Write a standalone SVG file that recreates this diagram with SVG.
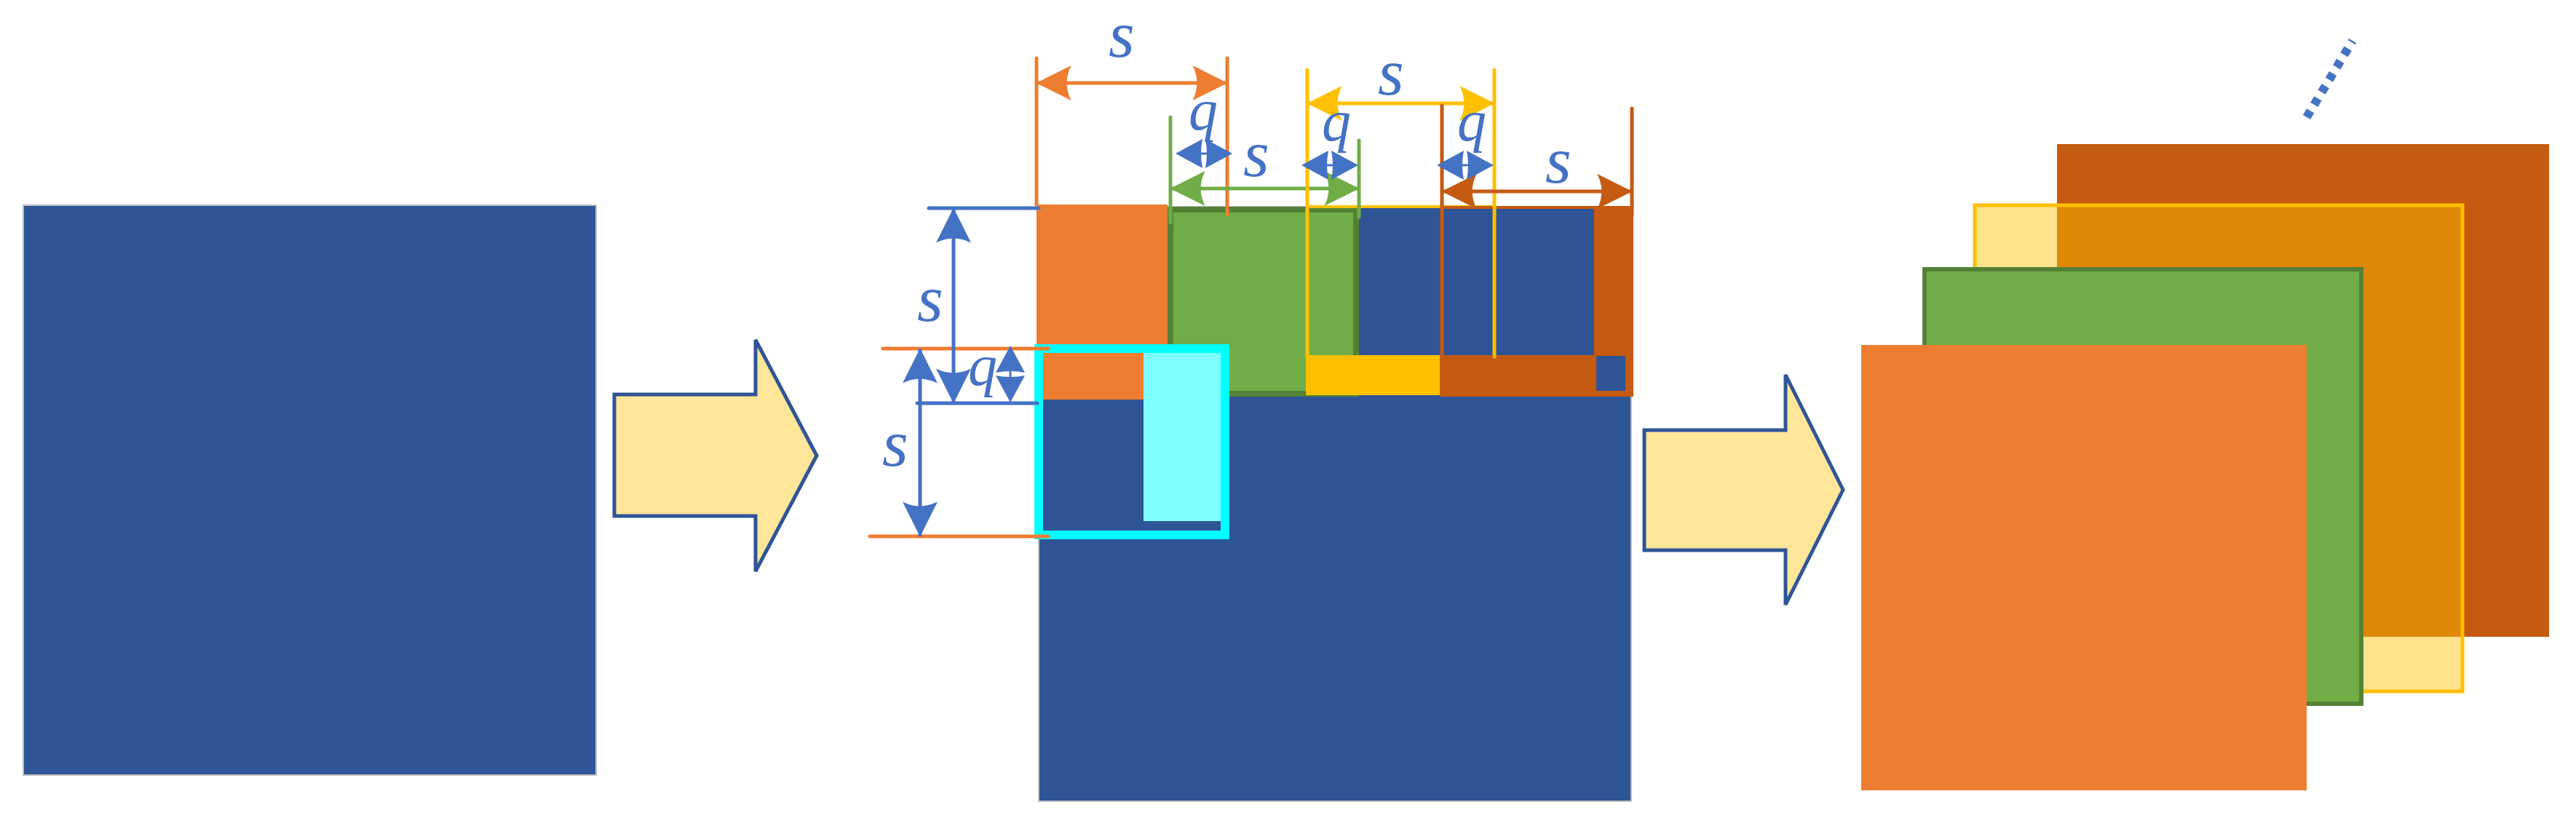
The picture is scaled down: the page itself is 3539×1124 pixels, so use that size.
<svg xmlns="http://www.w3.org/2000/svg" width="3539" height="1124" viewBox="0 0 3539 1124">
<style>
.t{font-family:"Liberation Serif",serif;font-style:italic;fill:#4472C4;text-anchor:middle}
.s{font-size:92px}.q{font-size:80px}
.dim{fill:none;stroke-width:5;stroke-linecap:round}
</style>
<defs>
<marker id="mb" viewBox="0 0 40 40" refX="38" refY="20" markerWidth="48" markerHeight="48" markerUnits="userSpaceOnUse" orient="auto-start-reverse"><path d="M0,0 L40,20 L0,40 Q10,20 0,0Z" fill="#4472C4"/></marker>
<marker id="mo" viewBox="0 0 40 40" refX="38" refY="20" markerWidth="48" markerHeight="48" markerUnits="userSpaceOnUse" orient="auto-start-reverse"><path d="M0,0 L40,20 L0,40 Q10,20 0,0Z" fill="#ED7D31"/></marker>
<marker id="mg" viewBox="0 0 40 40" refX="38" refY="20" markerWidth="48" markerHeight="48" markerUnits="userSpaceOnUse" orient="auto-start-reverse"><path d="M0,0 L40,20 L0,40 Q10,20 0,0Z" fill="#70AD47"/></marker>
<marker id="my" viewBox="0 0 40 40" refX="38" refY="20" markerWidth="48" markerHeight="48" markerUnits="userSpaceOnUse" orient="auto-start-reverse"><path d="M0,0 L40,20 L0,40 Q10,20 0,0Z" fill="#FFC000"/></marker>
<marker id="md" viewBox="0 0 40 40" refX="38" refY="20" markerWidth="48" markerHeight="48" markerUnits="userSpaceOnUse" orient="auto-start-reverse"><path d="M0,0 L40,20 L0,40 Q10,20 0,0Z" fill="#C55A11"/></marker>
<g id="qh"><path d="M-39,0 L-2,-20 Q-6,0 -2,20Z M39,0 L2,-20 Q6,0 2,20Z" fill="#4472C4"/><line x1="-30" y1="0" x2="30" y2="0" stroke="#4472C4" stroke-width="3"/></g>
</defs>

<g id="input"><rect x="32" y="282" width="787" height="783" fill="#2F5597" stroke="#BFBFBF" stroke-width="2"/></g>
<g id="arrow1"><path d="M844,542 H1038 V467 L1122,626 L1038,785 V709 H844Z" fill="#FFE699" stroke="#2F5597" stroke-width="5"/></g>

<g id="middle">
<rect x="1427" y="284" width="814" height="817" fill="#2F5597" stroke="#BFBFBF" stroke-width="2"/>
<rect x="1424" y="281" width="180" height="268" fill="#ED7D31"/>
<rect x="1608" y="288" width="255" height="253" fill="#70AD47" stroke="#538135" stroke-width="8"/>
<rect x="1794" y="488" width="184" height="55" fill="#FFC000"/>
<rect x="1796" y="284" width="257" height="206" fill="none" stroke="#FFC000" stroke-width="4"/>
<rect x="1978" y="488" width="263" height="55" fill="#C55A11"/>
<rect x="2190" y="283" width="51" height="260" fill="#C55A11"/>
<rect x="2193" y="489" width="40" height="48" fill="#2F5597"/>
<rect x="1981" y="285" width="261" height="258" fill="none" stroke="#C55A11" stroke-width="4"/>
<rect x="1433" y="485" width="138" height="64" fill="#ED7D31"/>
<rect x="1571" y="485" width="106" height="231" fill="#7FFFFF"/>
<rect x="1427" y="479" width="256" height="256" fill="none" stroke="#00FFFF" stroke-width="12"/>
</g>

<g id="connectors">
<line class="dim" x1="1424" y1="80" x2="1424" y2="281" stroke="#ED7D31"/>
<line class="dim" x1="1686" y1="80" x2="1686" y2="295" stroke="#ED7D31"/>
<line class="dim" x1="1426" y1="114" x2="1684" y2="114" stroke="#ED7D31" marker-start="url(#mo)" marker-end="url(#mo)"/>
<line class="dim" x1="1608" y1="161" x2="1608" y2="306" stroke="#70AD47"/>
<line class="dim" x1="1867" y1="193" x2="1867" y2="298" stroke="#70AD47"/>
<line class="dim" x1="1610" y1="259" x2="1865" y2="259" stroke="#70AD47" marker-start="url(#mg)" marker-end="url(#mg)"/>
<line class="dim" x1="1796" y1="96" x2="1796" y2="490" stroke="#FFC000"/>
<line class="dim" x1="2053" y1="96" x2="2053" y2="490" stroke="#FFC000"/>
<line class="dim" x1="1798" y1="142" x2="2051" y2="142" stroke="#FFC000" marker-start="url(#my)" marker-end="url(#my)"/>
<line class="dim" x1="1981" y1="145" x2="1981" y2="543" stroke="#C55A11"/>
<line class="dim" x1="2242" y1="149" x2="2242" y2="295" stroke="#C55A11"/>
<line class="dim" x1="1983" y1="263" x2="2240" y2="263" stroke="#C55A11" marker-start="url(#md)" marker-end="url(#md)"/>
<line class="dim" x1="1276" y1="286" x2="1427" y2="286" stroke="#4472C4"/>
<line class="dim" x1="1213" y1="479" x2="1440" y2="479" stroke="#ED7D31"/>
<line class="dim" x1="1260" y1="554" x2="1425" y2="554" stroke="#4472C4"/>
<line class="dim" x1="1195" y1="737" x2="1440" y2="737" stroke="#ED7D31"/>
<line class="dim" x1="1310" y1="288" x2="1310" y2="552" stroke="#4472C4" marker-start="url(#mb)" marker-end="url(#mb)"/>
<line class="dim" x1="1264" y1="481" x2="1264" y2="735" stroke="#4472C4" marker-start="url(#mb)" marker-end="url(#mb)"/>
<use href="#qh" x="1654" y="211"/>
<use href="#qh" x="1827" y="227"/>
<use href="#qh" x="2013" y="227"/>
<use href="#qh" transform="translate(1388,514) rotate(90)"/>
</g>

<g id="labels">
<text class="t s" x="1541" y="78">s</text>
<text class="t s" x="1726" y="242">s</text>
<text class="t s" x="1911" y="130">s</text>
<text class="t s" x="2141" y="251">s</text>
<text class="t s" x="1278" y="441">s</text>
<text class="t s" x="1230" y="640">s</text>
<text class="t q" x="1653" y="178">q</text>
<text class="t q" x="1836" y="193">q</text>
<text class="t q" x="2022" y="193">q</text>
<text class="t q" x="1350" y="529">q</text>
</g>

<g id="arrow2"><path d="M2259,591 H2453 V515 L2532,673 L2453,831 V756 H2259Z" fill="#FFE699" stroke="#2F5597" stroke-width="5"/></g>

<g id="stack">
<rect x="2826" y="198" width="676" height="677" fill="#C55A11"/>
<rect x="2713" y="282" width="670" height="668" fill="#FFC000" fill-opacity="0.45" stroke="#FFC000" stroke-width="5"/>
<rect x="2644" y="370" width="600" height="597" fill="#70AD47" stroke="#538135" stroke-width="6"/>
<rect x="2557" y="474" width="612" height="612" fill="#ED7D31"/>
<line x1="3169" y1="161" x2="3232" y2="56" stroke="#4472C4" stroke-width="12" stroke-dasharray="10,10"/>
</g>
</svg>
